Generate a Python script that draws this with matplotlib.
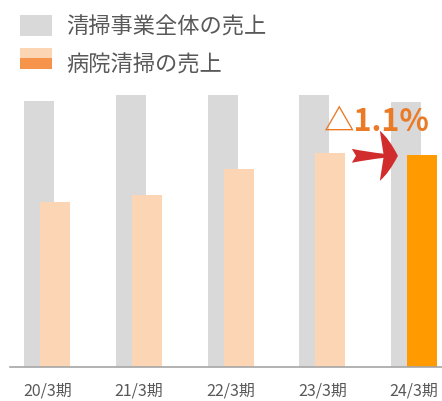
import matplotlib
matplotlib.use("Agg")
import matplotlib.pyplot as plt
import numpy as np
from matplotlib.patches import Rectangle, FancyArrowPatch
from matplotlib.legend_handler import HandlerBase

plt.rcParams["font.family"] = ["Noto Sans CJK JP", "DejaVu Sans"]

# index: 20/3期 total cleaning sales = 100
periods = ["20/3期", "21/3期", "22/3期", "23/3期", "24/3期"]
total_sales = [100.0, 102.1, 102.3, 102.3, 99.7]
hospital_sales = [62.1, 64.7, 74.4, 80.6, 79.7]
change_label = "△1.1%"

GRAY = "#d9d9d9"
PEACH = "#fcd5b5"
ORANGE = "#ff9a00"
LEG_ORANGE = "#f5944a"
TEXT = "#595959"


class TwoTone(HandlerBase):
    """legend patch: light top half, dark bottom half"""
    def create_artists(self, legend, orig, xd, yd, w, h, fs, trans):
        top = Rectangle((xd, yd + h / 2), w, h / 2, facecolor=PEACH, edgecolor="none", transform=trans)
        bot = Rectangle((xd, yd), w, h / 2, facecolor=LEG_ORANGE, edgecolor="none", transform=trans)
        return [top, bot]


fig = plt.figure(figsize=(4.42, 4.01), dpi=100)
ax = fig.add_axes([10 / 442, 34 / 401, 432 / 442, 367 / 401])

x = np.arange(len(periods))
w = 0.327
off = 0.087
ax.bar(x - off, total_sales, w, color=GRAY, zorder=1)
cols = [PEACH] * (len(periods) - 1) + [ORANGE]
ax.bar(x + off, hospital_sales, w, color=cols, zorder=2)

ax.set_xlim(-0.407, 4.304)
ax.set_ylim(0, 100 * 367 / 266)
ax.set_xticks(x)
ax.set_xticklabels(periods, fontsize=11.5, color=TEXT)
ax.tick_params(axis="x", length=0, pad=11)
ax.set_yticks([])
for s in ["top", "right", "left"]:
    ax.spines[s].set_visible(False)
ax.spines["bottom"].set_color("#a6a6a6")
ax.spines["bottom"].set_linewidth(1.2)

# arrow from 23/3 to 24/3 hospital bar
arr = FancyArrowPatch((3 + off + w / 2 + 0.04, hospital_sales[3] - 1.2),
                      (4 + off - w / 2 - 0.07, hospital_sales[3] - 1.2),
                      arrowstyle="fancy,head_length=1.3,head_width=3.6,tail_width=1.0",
                      mutation_scale=10, color="#d22d2d", zorder=3, lw=0)
ax.add_patch(arr)
ax.text(3.585, 92.0, change_label, fontsize=22, fontweight="bold", color="#eb7a26",
        ha="center", va="center", zorder=4)

handles = [Rectangle((0, 0), 1, 1, facecolor=GRAY, edgecolor="none"), object()]
leg = fig.legend(handles, ["清掃事業全体の売上", "病院清掃の売上"],
                 handler_map={object: TwoTone()},
                 loc="upper left", bbox_to_anchor=(20 / 442, 1 - 15 / 401),
                 frameon=False, fontsize=16, labelcolor=TEXT,
                 handlelength=1.45, handleheight=1.1, handletextpad=0.65,
                 labelspacing=0.7, borderpad=0, borderaxespad=0)

fig.savefig("out.png", dpi=100, facecolor="white")
